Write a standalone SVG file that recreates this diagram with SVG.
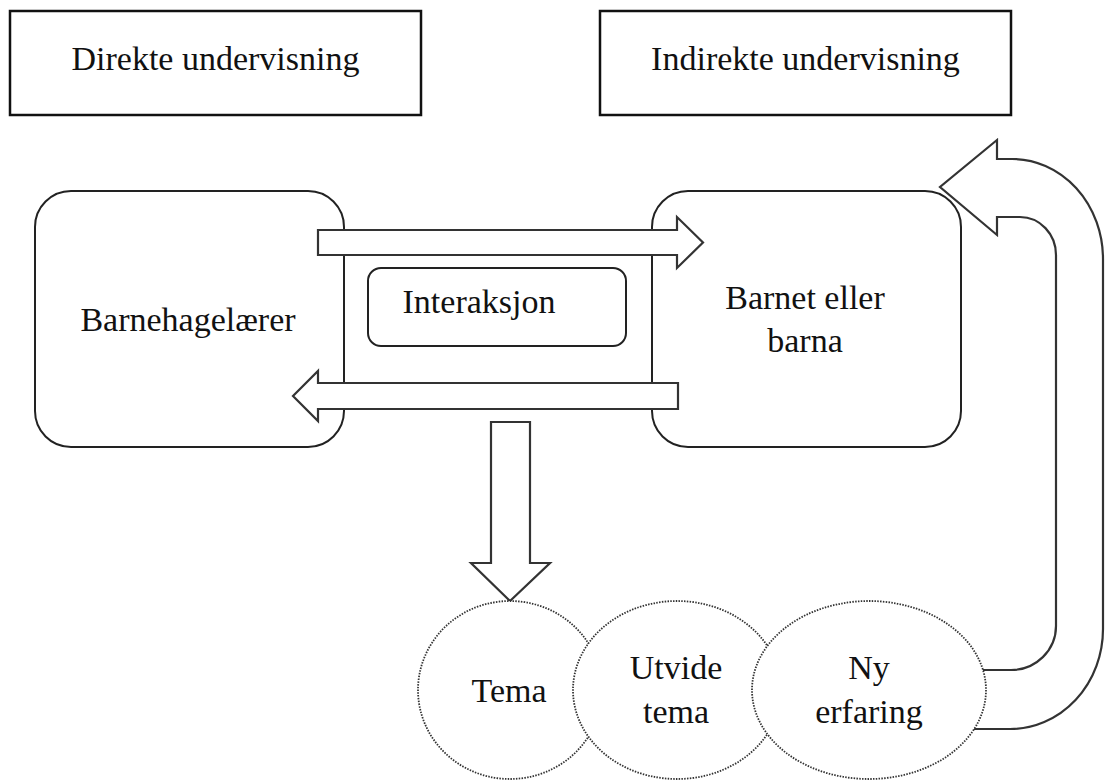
<svg xmlns="http://www.w3.org/2000/svg" width="1105" height="780" viewBox="0 0 1105 780">
<style>
  text { font-family: "Liberation Serif", "Times New Roman", serif; font-size: 34px; fill: #111; text-anchor: middle; }
  .box { fill: #fff; stroke: #111; stroke-width: 2.5; }
  .rbox { fill: #fff; stroke: #222; stroke-width: 2; }
  .arrow { fill: #fff; stroke: #333; stroke-width: 2.2; stroke-linejoin: miter; }
  .circ { fill: #fff; stroke: #333; stroke-width: 1.8; stroke-dasharray: 1.5 1.3; }
</style>
<rect width="1105" height="780" fill="#fff"/>
<g id="direkte">
  <rect class="box" x="10" y="11" width="411" height="104"/>
  <text x="215.5" y="70">Direkte undervisning</text>
</g>
<g id="indirekte">
  <rect class="box" x="600" y="11" width="411" height="104"/>
  <text x="805.5" y="70">Indirekte undervisning</text>
</g>
<g id="barnehagelaerer">
  <rect class="rbox" x="35" y="191" width="309" height="256" rx="36" ry="36"/>
  <text x="188" y="331">Barnehagelærer</text>
</g>
<g id="barnet">
  <rect class="rbox" x="652" y="191" width="309" height="256" rx="36" ry="36"/>
  <text x="805" y="309">Barnet eller</text>
  <text x="805" y="352">barna</text>
</g>
<g id="interaksjon">
  <rect class="rbox" x="368" y="268" width="258" height="78" rx="13" ry="13"/>
  <text x="479" y="313">Interaksjon</text>
</g>
<g id="connectors">
  <polygon class="arrow" points="318,230 677,230 677,217 703,242.5 677,268 677,255 318,255"/>
  <polygon class="arrow" points="678,383 318,383 318,371 293,396 318,421 318,409 678,409"/>
  <polygon class="arrow" points="491,422 530,422 530,563 550,563 510,601 471,563 491,563"/>
  <path class="arrow" d="M 975 670 L 1011 670 A 45 44 0 0 0 1056 626 L 1056 255 A 36 38 0 0 0 1020 217 L 997 217 L 997 235 L 940 187 L 997 140 L 997 159 L 1012 159 A 91 100 0 0 1 1103 259 L 1103 629 A 93 100 0 0 1 1010 729 L 960 729"/>
</g>
<g id="tema">
  <ellipse class="circ" cx="510" cy="690" rx="92" ry="89"/>
  <text x="509" y="702">Tema</text>
</g>
<g id="utvide">
  <ellipse class="circ" cx="677" cy="690" rx="104" ry="89"/>
  <text x="676" y="679">Utvide</text>
  <text x="676" y="723">tema</text>
</g>
<g id="ny-erfaring">
  <ellipse class="circ" cx="869" cy="690" rx="117" ry="89"/>
  <text x="869" y="679">Ny</text>
  <text x="869" y="723">erfaring</text>
</g>
</svg>
